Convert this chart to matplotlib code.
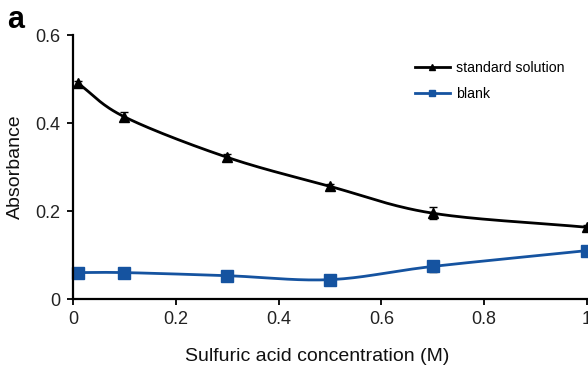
import numpy as np
import matplotlib.pyplot as plt

plt.rcParams["font.family"] = ["Liberation Sans", "DejaVu Sans"]

# data
conc = [0.01, 0.1, 0.3, 0.5, 0.7, 1.0]
standard = [0.490, 0.414, 0.322, 0.256, 0.195, 0.163]
standard_err = [0.006, 0.010, 0.008, 0.005, 0.013, 0.006]
blank = [0.060, 0.060, 0.053, 0.044, 0.074, 0.110]
blank_err = [0.004, 0.004, 0.004, 0.004, 0.013, 0.005]

BLUE = "#1553a0"


def smooth(x, y, n=30):
    # Catmull-Rom style smoothing, similar to spreadsheet "smoothed line"
    x = np.asarray(x, float)
    y = np.asarray(y, float)
    px = np.concatenate([[2 * x[0] - x[1]], x, [2 * x[-1] - x[-2]]])
    py = np.concatenate([[2 * y[0] - y[1]], y, [2 * y[-1] - y[-2]]])
    xs, ys = [], []
    t = np.linspace(0, 1, n)
    for i in range(1, len(px) - 2):
        p0, p1, p2, p3 = [np.array([px[j], py[j]]) for j in range(i - 1, i + 3)]
        m1 = (p2 - p0) / 6.0
        m2 = (p3 - p1) / 6.0
        b0, b1, b2, b3 = p1, p1 + m1, p2 - m2, p2
        pts = ((1 - t) ** 3)[:, None] * b0 + (3 * (1 - t) ** 2 * t)[:, None] * b1 \
            + (3 * (1 - t) * t ** 2)[:, None] * b2 + (t ** 3)[:, None] * b3
        xs.extend(pts[:, 0])
        ys.extend(pts[:, 1])
    return np.array(xs), np.array(ys)


fig = plt.figure(figsize=(5.88, 3.69), dpi=100)
ax = fig.add_axes([73 / 588, 1 - 299 / 369, 514 / 588, (299 - 35) / 369])

sx, sy = smooth(conc, standard)
bx, by = smooth(conc, blank)
ax.plot(sx, sy, color="black", lw=2, clip_on=False)
ax.plot(bx, by, color=BLUE, lw=2, clip_on=False)
ax.errorbar(conc, standard, yerr=standard_err, fmt="^", color="black", ms=7,
            capsize=3, elinewidth=1, clip_on=False)
ax.errorbar(conc, blank, yerr=blank_err, fmt="s", color=BLUE, ms=8,
            ecolor="black", capsize=3, elinewidth=1, clip_on=False)

# legend entries drawn as proxy lines
ax.plot([], [], color="black", lw=2, marker="^", ms=5, label="standard solution")
ax.plot([], [], color=BLUE, lw=2, marker="s", ms=5, label="blank")
handles, labels = ax.get_legend_handles_labels()
ax.legend(handles[-2:], labels[-2:], loc="upper left", bbox_to_anchor=(0.64, 0.95),
          frameon=False, fontsize=10.2, handlelength=2.5, labelspacing=0.85,
          handletextpad=0.4)

ax.set_xlim(0, 1)
ax.set_ylim(0, 0.6)
ax.set_xticks([0, 0.2, 0.4, 0.6, 0.8, 1])
ax.set_xticklabels(["0", "0.2", "0.4", "0.6", "0.8", "1"])
ax.set_yticks([0, 0.2, 0.4, 0.6])
ax.set_yticklabels(["0", "0.2", "0.4", "0.6"])
for s in ["top", "right"]:
    ax.spines[s].set_visible(False)
for s in ["left", "bottom"]:
    ax.spines[s].set_linewidth(1.6)
ax.tick_params(length=4, width=1.3, labelsize=13, pad=5, labelcolor="#222222")

ax.set_xlabel("Sulfuric acid concentration (M)", fontsize=14, labelpad=14,
              color="#111111")
ax.xaxis.label.set_x((317 - 73) / 514)
ax.set_ylabel("Absorbance", fontsize=14, labelpad=8, color="#111111")
fig.text(0.012, 0.925, "a", fontsize=22, fontweight="bold")

fig.savefig("out.png", dpi=100)
